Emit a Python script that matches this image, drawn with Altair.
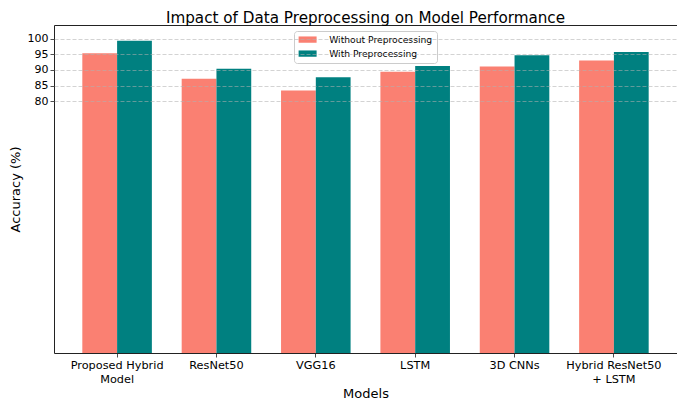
import altair as alt
import pandas as pd

models = ["Proposed Hybrid\nModel", "ResNet50", "VGG16", "LSTM", "3D CNNs", "Hybrid ResNet50\n+ LSTM"]
series = ["Without Preprocessing", "With Preprocessing"]
without_pre = [95.3, 87.2, 83.5, 89.4, 91.1, 93.0]
with_pre = [99.3, 90.4, 87.7, 91.3, 94.7, 95.7]
y_ticks = [80, 85, 90, 95, 100]
colors = ["#FA8072", "#008080"]

rows = []
for m, a, b in zip(models, without_pre, with_pre):
    rows.append({"Model": m, "Series": series[0], "Accuracy": a})
    rows.append({"Model": m, "Series": series[1], "Accuracy": b})
df = pd.DataFrame(rows)

FONT = "DejaVu Sans"

chart = alt.Chart(df).mark_bar().encode(
    x=alt.X("Model:N", sort=models,
            scale=alt.Scale(paddingInner=0.3, paddingOuter=0.285),
            axis=alt.Axis(title="Models", labelAngle=0,
                          labelExpr="split(datum.label, '\\n')",
                          labelLineHeight=14, labelFontSize=11.3,
                          labelPadding=2, tickSize=4, grid=False,
                          titleX=311.5, titleY=44.5, titleBaseline="alphabetic",
                          titleFontSize=13, titleFontWeight="normal")),
    xOffset=alt.XOffset("Series:N", sort=series, scale=alt.Scale(paddingInner=0, paddingOuter=0)),
    y=alt.Y("Accuracy:Q", scale=alt.Scale(domain=[0, 104.3], nice=False, zero=True),
            axis=alt.Axis(title="Accuracy (%)", values=y_ticks, labelFontSize=11,
                          labelPadding=2, tickSize=4, grid=True,
                          gridColor="#b0b0b0", gridOpacity=0.7, gridDash=[4, 2],
                          gridWidth=0.8, zindex=1,
                          titleX=-39, titleY=164, titleBaseline="middle",
                          titleFontSize=13, titleFontWeight="normal")),
    fill=alt.Fill("Series:N", sort=series,
                  scale=alt.Scale(domain=series, range=colors),
                  legend=alt.Legend(title=None, orient="none", legendX=240, legendY=6,
                                    padding=4, strokeColor="#cccccc", fillColor="rgba(255,255,255,0.8)",
                                    cornerRadius=3,
                                    symbolType="M-2,-0.7H2V0.7H-2Z", symbolSize=81,
                                    symbolOffset=5, symbolStrokeWidth=0,
                                    labelOffset=17, rowPadding=4, labelFontSize=9.2,
                                    labelFont=FONT, labelColor="black")),
).properties(
    width=623, height=328,
    title=alt.TitleParams("Impact of Data Preprocessing on Model Performance",
                          fontSize=15.2, fontWeight="normal", font=FONT, color="black",
                          offset=4, dy=5, anchor="middle"),
    padding={"left": 46, "top": 17, "right": 0, "bottom": 48},
    autosize="none",
).configure_view(
    stroke="#222222", strokeWidth=1
).configure_axis(
    labelFont=FONT, titleFont=FONT, labelColor="black", titleColor="black",
    domain=False, tickColor="#222222", tickWidth=0.8
)

chart.save("out.html", embed_options={"renderer": "svg", "actions": False})
